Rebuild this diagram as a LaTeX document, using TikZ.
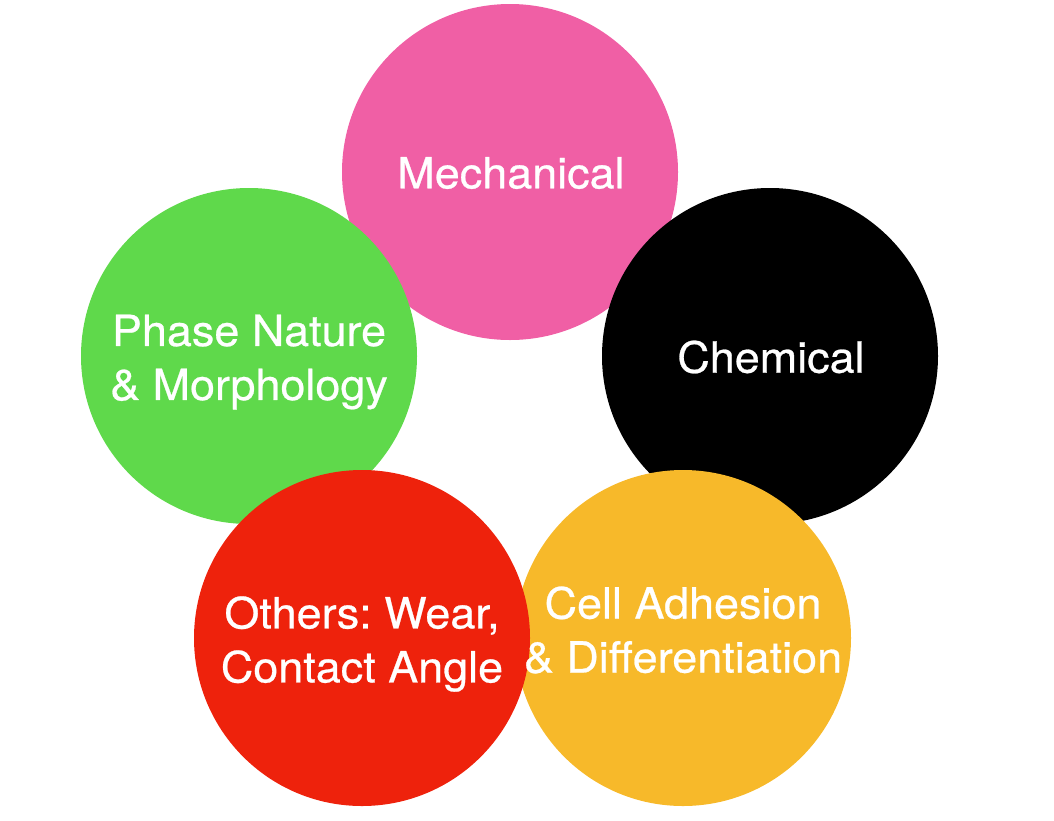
\documentclass[tikz,border=0pt]{standalone}
\usepackage{fontspec}
\newfontfamily\heros[FakeStretch=1.045,FakeBold=0.6]{TeX Gyre Heros}
\definecolor{mechpink}{RGB}{240,95,165}
\definecolor{phasegreen}{RGB}{95,217,75}
\definecolor{cellorange}{RGB}{247,185,42}
\definecolor{othersred}{RGB}{238,34,12}
\tikzset{lbl/.style={text=white,align=center,inner sep=0pt,font=\heros\frenchspacing\fontsize{43}{54}\selectfont}}
\begin{document}
\begin{tikzpicture}[x=1pt,y=-1pt]
  \useasboundingbox (0,0) rectangle (1054,820);
  \path (510,172) coordinate (M) (770,356) coordinate (C) (249,356) coordinate (P) (683,638) coordinate (A) (362,638) coordinate (O);
  \foreach \P/\c in {M/mechpink,P/phasegreen,C/black,A/cellorange,O/othersred} \fill[\c] (\P) circle (168pt);
  \path (511,173) node[lbl](mech){Mechanical}
    (771,357) node[lbl](chem){Chemical}
    (249,362) node[lbl](phase){Phase Nature\\\& Morphology}
    (362,644) node[lbl](others){Others: Wear,\\Contact Angle}
    (683,630) node[lbl](cell){Cell Adhesion\\\& Differentiation};
\end{tikzpicture}
\end{document}
